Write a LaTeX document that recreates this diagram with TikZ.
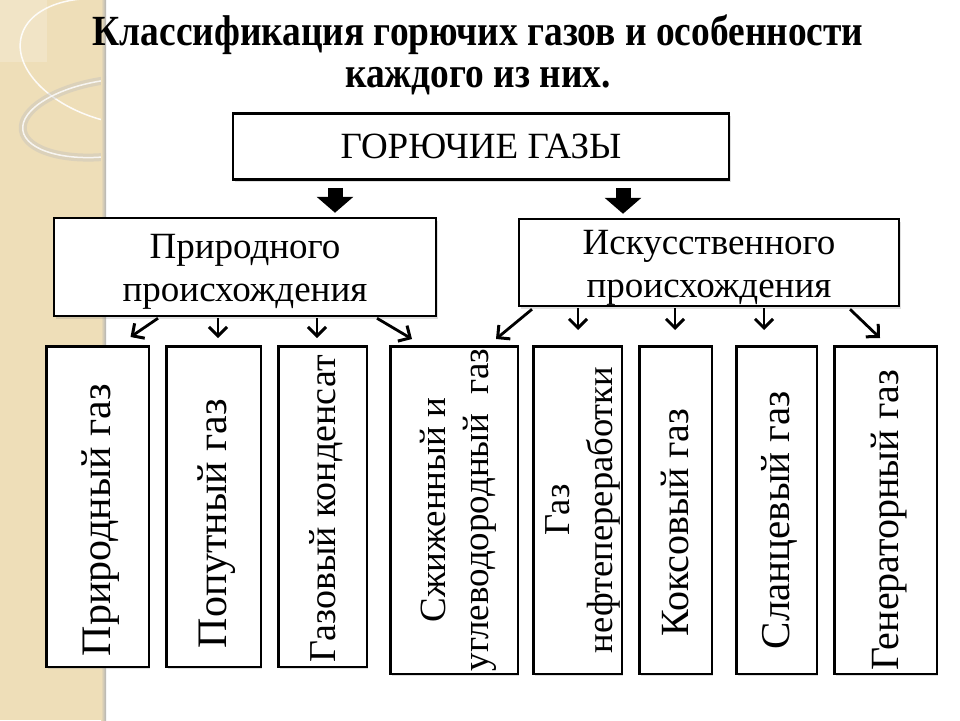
\documentclass[tikz,border=0pt]{standalone}
\usepackage{fontspec}
\setmainfont{Liberation Serif}
\newfontfamily\titlefont[FakeStretch=0.87]{Liberation Serif}
\usepackage{graphicx}
\usetikzlibrary{positioning, arrows.meta, shadows}

\definecolor{strip}{RGB}{238,222,184}
\newcommand{\lines}[1]{\raisebox{-4.5pt}[\height][\depth]{\begin{tabular}{@{}c@{}}#1\end{tabular}}}
\newcommand{\vlabel}[2][0pt]{\rotatebox{90}{\lines{#2}\hspace*{#1}}}

\begin{document}
\begin{tikzpicture}[
    x=1pt, y=-1pt,
    mainbox/.style={rectangle, draw, line width=2.5pt, fill=white, inner sep=0pt, drop shadow={shadow xshift=1.5pt, shadow yshift=-2.5pt, opacity=0.25}},
    levelbox/.style={mainbox, font=\fontsize{37}{43}\selectfont},
    gasbox/.style={mainbox, font=\fontsize{40}{43}\selectfont, minimum height=320.5pt},
    link/.style={-{Straight Barb[length=9pt,width=18pt,line width=3pt]}, line width=2.8pt},
    bigarrow/.style={-{Triangle[width=36pt,length=16pt]}, line width=15pt}
]
\useasboundingbox (0,0) rectangle (960,720);

% background strip on the left
\fill[strip] (0,0) rectangle (106,720);
\begin{scope}
  \clip (0,0) rectangle (106,720);
  \fill[white, opacity=0.2] (0,0) rectangle (47,62);
  \draw[white, opacity=0.9, line width=1.5pt, rotate around={-15:(118,62)}] (118,62) ellipse [x radius=100, y radius=60];
  \draw[black!25, opacity=0.4, line width=8pt, rotate around={8:(110,118)}] (110,118) ellipse [x radius=88, y radius=38];
  \draw[white, opacity=0.8, line width=1.5pt, rotate around={8:(110,118)}] (110,118) ellipse [x radius=88, y radius=38];
\end{scope}
\shade[left color=strip, right color=black!30] (101,0) rectangle (106,720);

% title
\node[font=\titlefont\fontsize{43}{42}\selectfont\bfseries, align=center] (title) at (478,55) {Классификация горючих газов и особенности\\каждого из них.};

% levels
\node[mainbox, minimum width=496pt, minimum height=66pt, font=\fontsize{37}{40}\selectfont] (fuel) at (481,146.5) {ГОРЮЧИЕ ГАЗЫ};
\node[levelbox, minimum width=382pt, minimum height=98pt] (nat) at (245,267) {\lines{Природного\\происхождения}};
\node[levelbox, minimum width=380pt, minimum height=87pt] (art) at (709,262.5) {\lines{Искусственного\\происхождения}};

% gases
\node[gasbox, minimum width=102.5pt, font=\fontsize{42}{43}\selectfont] (n1) at (97.5,506.5) {\vlabel[27pt]{Природный газ}};
\node[gasbox, minimum width=94.5pt, font=\fontsize{42}{43}\selectfont, right=15pt of n1] (n2) {\vlabel[34pt]{Попутный газ}};
\node[gasbox, minimum width=88.5pt, font=\fontsize{38}{43}\selectfont, right=15pt of n2] (n3) {\vlabel[5pt]{Газовый конденсат}};
\node[gasbox, minimum width=127.5pt, minimum height=327.5pt, font=\fontsize{37}{43}\selectfont, right=21pt of n3.north east, anchor=north west] (n4) {\vlabel{Сжиженный и\\углеводородный\ \ газ}};
\node[gasbox, minimum width=88.5pt, minimum height=327.5pt, font=\fontsize{36.5}{43}\selectfont, right=13pt of n4] (n5) {\vlabel{Газ\\нефтепереработки}};
\node[gasbox, minimum width=72.5pt, minimum height=327.5pt, right=15pt of n5] (n6) {\vlabel[25pt]{Коксовый газ}};
\node[gasbox, minimum width=80.5pt, minimum height=327.5pt, font=\fontsize{41}{43}\selectfont, right=22pt of n6] (n7) {\vlabel[20pt]{Сланцевый газ}};
\node[gasbox, minimum width=102.5pt, minimum height=327.5pt, right=15pt of n7] (n8) {\vlabel[20pt]{Генераторный газ}};

% connectors
\draw[bigarrow, shorten <=7pt, shorten >=4pt] ([xshift=-146]fuel.south) -- ([xshift=-146]fuel.south |- nat.north);
\draw[bigarrow, shorten <=7pt, shorten >=4pt] ([xshift=142]fuel.south) -- ([xshift=142]fuel.south |- art.north);

\draw[link] ([xshift=-87,yshift=-1]nat.south) -- ([xshift=33,yshift=8]n1.north);
\draw[link] ([xshift=-27,yshift=-1]nat.south) -- ([xshift=4.5,yshift=7]n2.north);
\draw[link] ([xshift=72,yshift=-1]nat.south) -- ([xshift=-5.5,yshift=7]n3.north);
\draw[link] ([xshift=132,yshift=-1]nat.south) -- ([xshift=-42,yshift=6]n4.north);
\draw[link] ([xshift=-177,yshift=-2]art.south) -- ([xshift=42,yshift=6]n4.north);
\draw[link] ([xshift=-131,yshift=-1]art.south) -- ([xshift=0.5,yshift=15]n5.north);
\draw[link] ([xshift=-34,yshift=-1]art.south) -- ([xshift=-0.5,yshift=15]n6.north);
\draw[link] ([xshift=55,yshift=-1]art.south) -- ([xshift=-12.5,yshift=15]n7.north);
\draw[link] ([xshift=141,yshift=-2]art.south) -- ([xshift=-5.5,yshift=7]n8.north);
\end{tikzpicture}
\end{document}
